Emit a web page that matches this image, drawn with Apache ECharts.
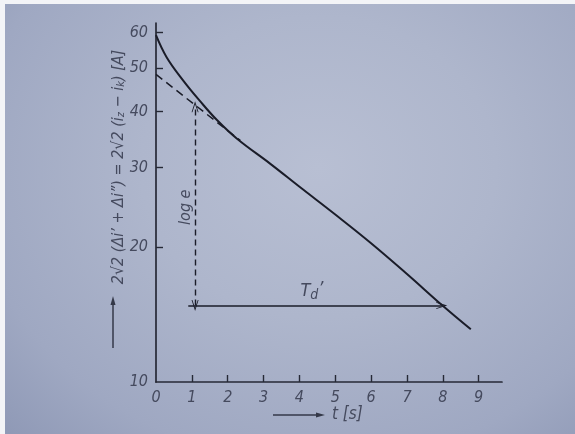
<!DOCTYPE html>
<html>
<head>
<meta charset="utf-8">
<script src="https://cdn.jsdelivr.net/npm/echarts@6/dist/echarts.min.js"></script>
<style>
  html, body { margin: 0; padding: 0; background: #f3f4f7; }
  #paper {
    position: absolute; left: 5px; top: 4px; width: 570px; height: 430px;
    background: radial-gradient(ellipse at 55% 38%, #b8bfd3 0%, #aeb6cc 40%, #9fa8c2 78%, #8f99b6 100%);
  }
  #chart { position: absolute; left: 0; top: 0; width: 575px; height: 434px; }
</style>
</head>
<body>
<div id="paper"></div>
<div id="chart"></div>
<script>
// Decay of the aperiodic short-circuit component, semi-log plot
const timeTicks = [0, 1, 2, 3, 4, 5, 6, 7, 8, 9];
const currentTicks = [10, 20, 30, 40, 50, 60];

// measured envelope 2√2(Δi' + Δi'')
const curveT = [0, 0.3, 0.76, 1.23, 1.7, 2.26, 3.19, 4.03, 5.0, 5.99, 7.0, 7.99, 8.78];
const curveI = [59.2, 52.8, 46.9, 42.2, 38.3, 34.8, 30.6, 27.1, 23.6, 20.4, 17.4, 14.8, 13.1];

// straight-line (transient) part extended back to t = 0
const tangentT = [0, 2.35];
const tangentI = [48.4, 34.5];

// T_d' construction: horizontal span and the "log e" drop
const spanT = [0.9, 7.97];
const spanI = 14.8;
const dropT = 1.09;
const dropI = [14.8, 41.0];

const FONT = "'DejaVu Sans Condensed', 'Liberation Sans Narrow', 'DejaVu Sans', sans-serif";
const INK = '#1a1c28';
const TEXT = '#454a5e';
const CHEVRON = 'path://M0,12 L6,0 L12,12 L10.6,12 L6,3.2 L1.4,12 Z';

const chart = echarts.init(document.getElementById('chart'), null, { renderer: 'canvas' });

const axisTextStyle = { color: TEXT, fontFamily: FONT, fontStyle: 'italic', fontSize: 16 };

chart.setOption({
  backgroundColor: 'transparent',
  animation: false,
  grid: { left: 156, top: 23, right: 73, bottom: 52 },
  xAxis: {
    type: 'value', min: 0, max: 9.65,
    axisLine: { lineStyle: { color: '#262936', width: 1.7 } },
    axisTick: { inside: true, length: 7, lineStyle: { color: '#262936', width: 1.4 },
                customValues: timeTicks.slice(1) },
    axisLabel: Object.assign({ margin: 8, customValues: timeTicks }, axisTextStyle),
    splitLine: { show: false }
  },
  yAxis: {
    type: 'log', logBase: 10, min: 10, max: 63,
    axisLine: { show: true, lineStyle: { color: '#262936', width: 1.7 } },
    axisTick: { show: true, inside: true, length: 7, lineStyle: { color: '#262936', width: 1.4 },
                customValues: currentTicks.slice(1) },
    axisLabel: Object.assign({ margin: 8, customValues: currentTicks }, axisTextStyle),
    splitLine: { show: false }
  },
  series: [
    {
      type: 'line',
      data: curveT.map((t, i) => [t, curveI[i]]),
      smooth: 0.4,
      symbol: 'none',
      lineStyle: { color: INK, width: 2 },
      markLine: {
        silent: true,
        animation: false,
        label: { show: false },
        symbolSize: [7, 11],
        data: [
          [
            { coord: [spanT[0], spanI], symbol: 'none', lineStyle: { color: INK, width: 1.6, type: 'solid' } },
            { coord: [spanT[1], spanI], symbol: CHEVRON, lineStyle: { color: INK, width: 1.6, type: 'solid' } }
          ],
          [
            { coord: [dropT, dropI[0]], symbol: CHEVRON, lineStyle: { color: INK, width: 1.4, type: [6, 4] } },
            { coord: [dropT, dropI[1]], symbol: CHEVRON, lineStyle: { color: INK, width: 1.4, type: [6, 4] } }
          ]
        ]
      }
    },
    {
      type: 'line',
      data: tangentT.map((t, i) => [t, tangentI[i]]),
      symbol: 'none',
      lineStyle: { color: INK, width: 1.5, type: [8, 5] }
    }
  ]
});

// annotations placed relative to the data they describe
const px = p => chart.convertToPixel({ seriesIndex: 0 }, p);
const logPos = px([dropT, 24.5]);
const tdPos = px([4.35, spanI]);

chart.setOption({
  graphic: [
    {
      type: 'text', x: logPos[0] - 9, y: logPos[1], rotation: Math.PI / 2,
      style: { text: 'log e', fill: TEXT, font: "italic 16px " + FONT, align: 'center', verticalAlign: 'middle' }
    },
    {
      type: 'text', x: tdPos[0], y: tdPos[1] - 14,
      style: {
        text: 'T{d|d}{p|’}', fill: TEXT, font: "italic 18px " + FONT, align: 'center', verticalAlign: 'middle',
        rich: {
          d: { fontSize: 14, fontStyle: 'italic', fontFamily: FONT, verticalAlign: 'bottom', lineHeight: 12, fill: TEXT },
          p: { fontSize: 18, fontStyle: 'italic', fontFamily: FONT, verticalAlign: 'top', lineHeight: 22, fill: TEXT }
        }
      }
    },
    {
      // y-axis quantity
      type: 'text', x: 119, y: 167, rotation: Math.PI / 2,
      style: {
        text: '2√2 (Δi’ + Δi”) = 2√2 (i{s|z} − i{s|k}) [A]',
        fill: TEXT, font: "italic 16px " + FONT, align: 'center', verticalAlign: 'middle',
        rich: {
          s: { fontSize: 11, fontStyle: 'italic', fontFamily: FONT, verticalAlign: 'bottom', lineHeight: 8, fill: TEXT }
        }
      }
    },
    {
      type: 'line', shape: { x1: 113, y1: 348, x2: 113, y2: 300 },
      style: { stroke: '#343848', lineWidth: 1.5 }
    },
    {
      type: 'polygon', shape: { points: [[113, 296], [110.5, 305], [115.5, 305]] },
      style: { fill: '#343848' }
    },
    {
      // x-axis quantity
      type: 'line', shape: { x1: 273, y1: 415, x2: 320, y2: 415 },
      style: { stroke: '#343848', lineWidth: 1.5 }
    },
    {
      type: 'polygon', shape: { points: [[325, 415], [316, 412.5], [316, 417.5]] },
      style: { fill: '#343848' }
    },
    {
      type: 'text', x: 332, y: 415,
      style: { text: 't [s]', fill: TEXT, font: "italic 17px " + FONT, align: 'left', verticalAlign: 'middle' }
    }
  ]
});
</script>
</body>
</html>
